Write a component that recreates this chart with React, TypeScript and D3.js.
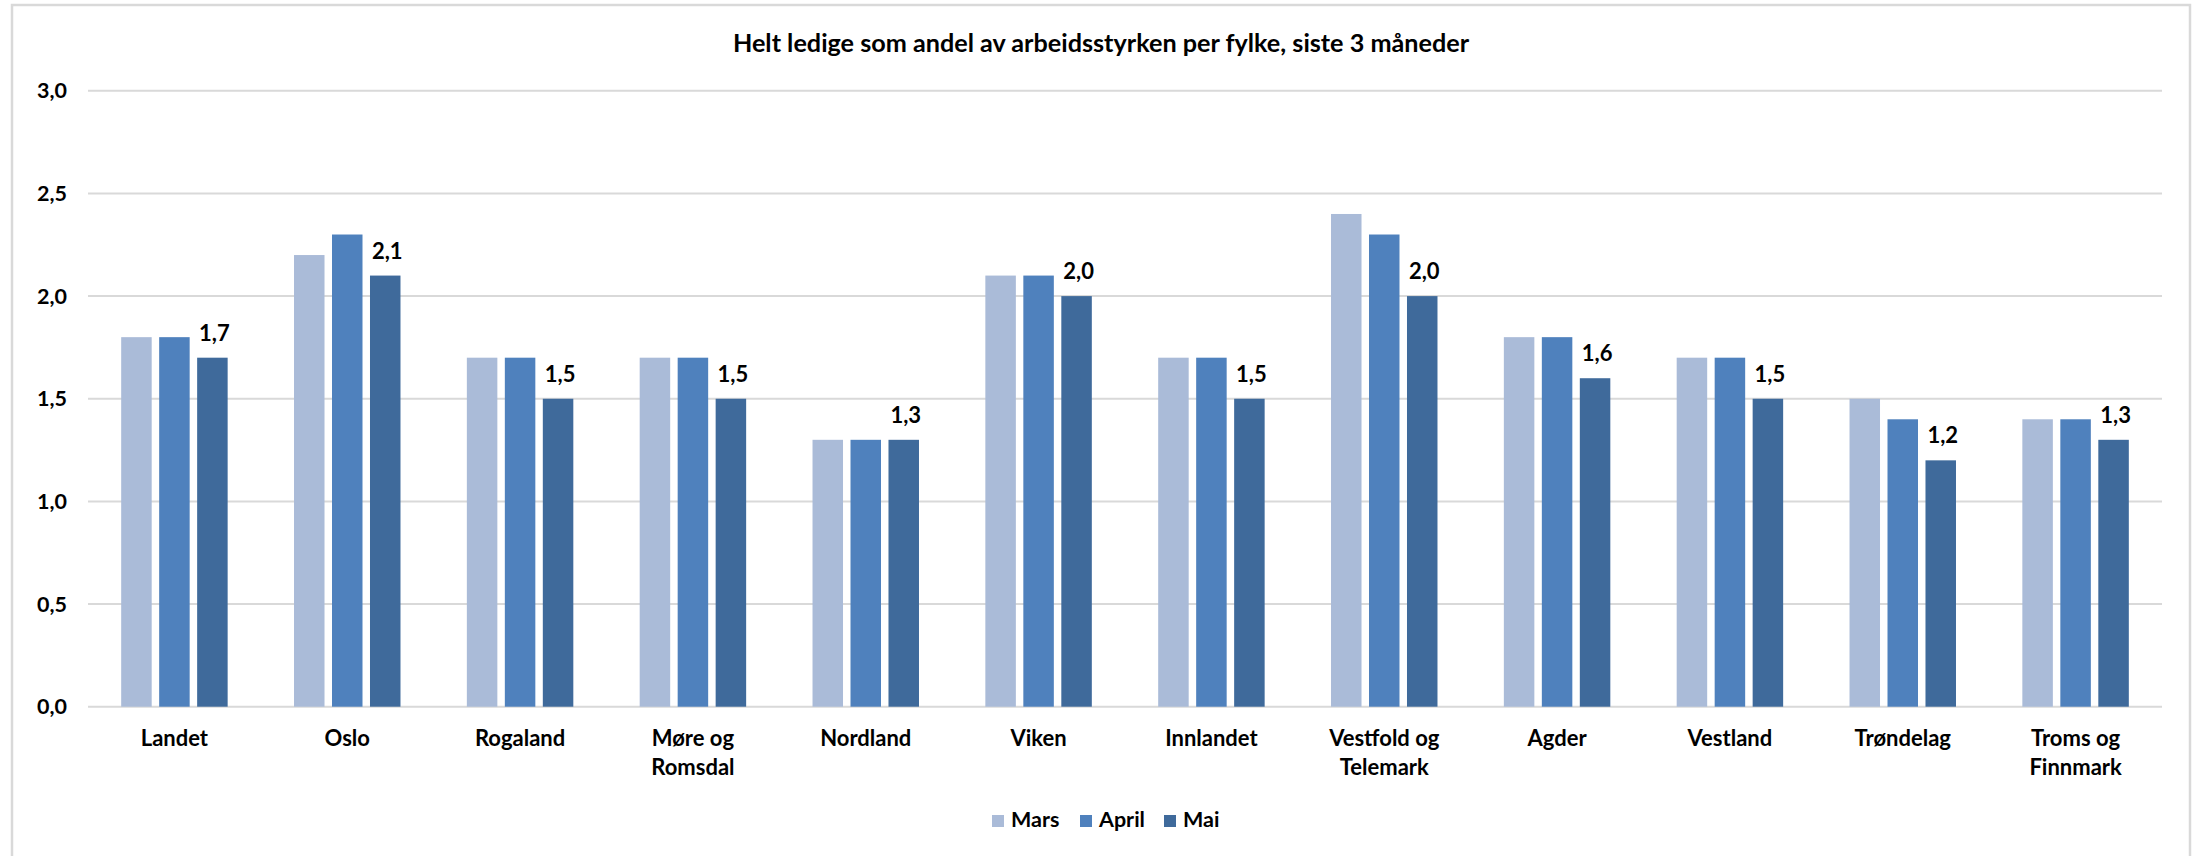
import React from "react";
import * as d3 from "d3";

const categories: string[][] = [
  ["Landet"],
  ["Oslo"],
  ["Rogaland"],
  ["Møre og", "Romsdal"],
  ["Nordland"],
  ["Viken"],
  ["Innlandet"],
  ["Vestfold og", "Telemark"],
  ["Agder"],
  ["Vestland"],
  ["Trøndelag"],
  ["Troms og", "Finnmark"],
];
const seriesNames = ["Mars", "April", "Mai"];
const mars = [1.8, 2.2, 1.7, 1.7, 1.3, 2.1, 1.7, 2.4, 1.8, 1.7, 1.5, 1.4];
const april = [1.8, 2.3, 1.7, 1.7, 1.3, 2.1, 1.7, 2.3, 1.8, 1.7, 1.4, 1.4];
const mai = [1.7, 2.1, 1.5, 1.5, 1.3, 2.0, 1.5, 2.0, 1.6, 1.5, 1.2, 1.3];
const yTicks = [0, 0.5, 1, 1.5, 2, 2.5, 3];
const title = "Helt ledige som andel av arbeidsstyrken per fylke, siste 3 måneder";
const colors = ["#aabbd8", "#4f81bd", "#3f6a9b"];

const W = 2201;
const H = 856;
const FONT = "Lato, 'Open Sans', sans-serif";

export default function App() {
  const series = [mars, april, mai];
  const keys = categories.map((c) => c.join(" "));
  const x0 = d3
    .scaleBand<string>()
    .domain(keys)
    .range([88, 2162])
    .paddingInner(0.384)
    .paddingOuter(0.192);
  const x1 = d3
    .scaleBand<string>()
    .domain(seriesNames)
    .range([0, x0.bandwidth()])
    .paddingInner(0.197)
    .paddingOuter(0);
  const y = d3.scaleLinear().domain([0, 3]).range([706.7, 90.8]);
  const fmt = (v: number) => d3.format(".1f")(v).replace(".", ",");

  const legendX = [992, 1080, 1164];

  return (
    <div style={{ position: "absolute", left: 0, top: 0 }}>
      <svg width={W} height={H} style={{ display: "block", background: "#fff" }} fontFamily={FONT} fontWeight="bold">
        <rect x={0} y={0} width={W} height={H} fill="#fff" />
        <rect x={12} y={5} width={2178} height={900} fill="none" stroke="#d9d9d9" strokeWidth={2.5} />
        <text x={1101} y={52} textAnchor="middle" fontSize={25.2} fill="#000">
          {title}
        </text>
        {yTicks.map((t) => (
          <g key={t}>
            <line x1={88} x2={2162} y1={y(t)} y2={y(t)} stroke="#d9d9d9" strokeWidth={2} />
            <text x={67} y={y(t)} dy="0.35em" textAnchor="end" fontSize={21.5} fill="#000">
              {fmt(t)}
            </text>
          </g>
        ))}
        {keys.map((k, i) => (
          <g key={k} transform={`translate(${x0(k)},0)`}>
            {series.map((s, j) => (
              <rect
                key={j}
                x={x1(seriesNames[j])}
                y={y(s[i])}
                width={x1.bandwidth()}
                height={y(0) - y(s[i])}
                fill={colors[j]}
              />
            ))}
            <text
              x={(x1(seriesNames[2]) as number) + x1.bandwidth() / 2 + 2}
              y={y(mai[i]) - 17}
              textAnchor="middle"
              fontSize={22}
              fill="#000"
            >
              {fmt(mai[i])}
            </text>
            {categories[i].map((line, li) => (
              <text
                key={li}
                x={x0.bandwidth() / 2}
                y={746 + li * 28.5}
                textAnchor="middle"
                fontSize={22}
                fill="#000"
              >
                {line}
              </text>
            ))}
          </g>
        ))}
        {seriesNames.map((n, j) => (
          <g key={n}>
            <rect x={legendX[j]} y={815} width={12} height={12} fill={colors[j]} />
            <text x={legendX[j] + 19} y={827} fontSize={21.5} fill="#000">
              {n}
            </text>
          </g>
        ))}
      </svg>
    </div>
  );
}
